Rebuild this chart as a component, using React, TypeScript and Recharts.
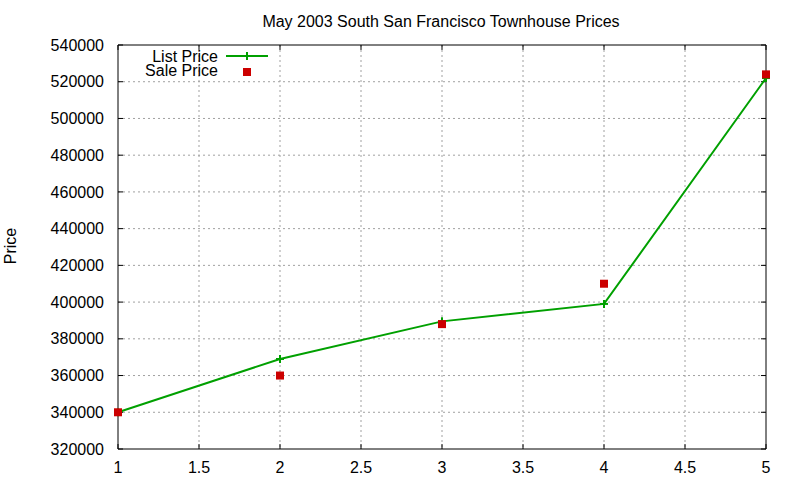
import React from 'react';
import { LineChart, Line, CartesianGrid, XAxis, YAxis, Legend, ReferenceArea, ReferenceLine } from 'recharts';

const units = [1, 2, 3, 4, 5];
const listPrices = [340000, 369000, 389500, 399000, 522000];
const salePrices = [340000, 360000, 388000, 410000, 524000];
const xTicks = [1, 1.5, 2, 2.5, 3, 3.5, 4, 4.5, 5];
const yTicks = [320000, 340000, 360000, 380000, 400000, 420000, 440000, 460000, 480000, 500000, 520000, 540000];

const data = units.map((u, i) => ({ unit: u, list: listPrices[i], sale: salePrices[i] }));

const X_MIN = 1, X_MAX = 5, Y_MIN = 320000, Y_MAX = 540000;
// inward tick length, in data units (about 5px)
const X_TICK_LEN = 0.031;
const Y_TICK_LEN = 2700;

const GREEN = '#00a000';
const RED = '#cc0000';
const FONT = '"Liberation Sans", Arial, sans-serif';

const PlusDot = (props: any) => {
    const { cx, cy } = props;
    if (cx == null || cy == null) return null;
    return (
        <g>
            <line x1={cx - 4} x2={cx + 4} y1={cy} y2={cy} stroke={GREEN} strokeWidth={2} />
            <line x1={cx} x2={cx} y1={cy - 4} y2={cy + 4} stroke={GREEN} strokeWidth={2} />
        </g>
    );
};

const SquareDot = (props: any) => {
    const { cx, cy } = props;
    if (cx == null || cy == null) return null;
    return <rect x={cx - 4} y={cy - 4} width={8} height={8} fill={RED} />;
};

const LegendBox = () => (
    <svg width={160} height={36} style={{ fontFamily: FONT, fontSize: 16 }}>
        <text x={87} y={15.5} textAnchor="end" fill="#000">List Price</text>
        <line x1={95} x2={137} y1={10} y2={10} stroke={GREEN} strokeWidth={2} />
        <line x1={116} x2={116} y1={6} y2={14} stroke={GREEN} strokeWidth={2} />
        <text x={87} y={29.7} textAnchor="end" fill="#000">Sale Price</text>
        <rect x={112} y={22} width={8} height={8} fill={RED} />
    </svg>
);

const App: React.FC = () => {
    return (
        <div style={{ position: 'fixed', left: 0, top: 0, width: 800, height: 480, background: '#fff', fontFamily: FONT }}>
            <svg width={800} height={480} style={{ position: 'absolute', left: 0, top: 0, fontFamily: FONT }}>
                <text x={441} y={27} textAnchor="middle" fontSize={16} fill="#000">May 2003 South San Francisco Townhouse Prices</text>
                <text x={16} y={246} textAnchor="middle" fontSize={16} fill="#000" transform="rotate(-90 16 246)">Price</text>
            </svg>
            <div style={{ position: 'absolute', left: 0, top: 0 }}>
                <LineChart width={800} height={480} data={data} margin={{ top: 45, right: 34, bottom: 0, left: 0 }}>
                    <CartesianGrid xAxisId="b" yAxisId="l" stroke="#a0a0a0" strokeDasharray="2 3"
                        horizontalValues={yTicks.slice(1, -1)} verticalValues={xTicks.slice(1, -1)} />
                    <XAxis xAxisId="b" dataKey="unit" type="number" domain={[X_MIN, X_MAX]} ticks={xTicks} height={31}
                        axisLine={false} tickLine={false} tickMargin={7} interval={0}
                        tick={{ fill: '#000', fontSize: 16, fontFamily: FONT }} />
                    <YAxis yAxisId="l" type="number" domain={[Y_MIN, Y_MAX]} ticks={yTicks} width={118}
                        axisLine={false} tickLine={false} tickMargin={8} interval={0}
                        tick={{ fill: '#000', fontSize: 16, fontFamily: FONT }} />
                    <ReferenceArea xAxisId="b" yAxisId="l" x1={X_MIN} x2={X_MAX} y1={Y_MIN} y2={Y_MAX}
                        fill="none" fillOpacity={0} stroke="#000" strokeWidth={1} strokeOpacity={1} ifOverflow="visible" />
                    {xTicks.map((t) => (
                        <ReferenceLine key={`xb${t}`} xAxisId="b" yAxisId="l" stroke="#000" ifOverflow="visible"
                            segment={[{ x: t, y: Y_MIN }, { x: t, y: Y_MIN + Y_TICK_LEN }]} />
                    ))}
                    {xTicks.map((t) => (
                        <ReferenceLine key={`xt${t}`} xAxisId="b" yAxisId="l" stroke="#000" ifOverflow="visible"
                            segment={[{ x: t, y: Y_MAX }, { x: t, y: Y_MAX - Y_TICK_LEN }]} />
                    ))}
                    {yTicks.map((t) => (
                        <ReferenceLine key={`yl${t}`} xAxisId="b" yAxisId="l" stroke="#000" ifOverflow="visible"
                            segment={[{ x: X_MIN, y: t }, { x: X_MIN + X_TICK_LEN, y: t }]} />
                    ))}
                    {yTicks.map((t) => (
                        <ReferenceLine key={`yr${t}`} xAxisId="b" yAxisId="l" stroke="#000" ifOverflow="visible"
                            segment={[{ x: X_MAX, y: t }, { x: X_MAX - X_TICK_LEN, y: t }]} />
                    ))}
                    <Legend layout="vertical" verticalAlign="middle" align="center" content={<LegendBox />}
                        wrapperStyle={{ left: 131, top: 46, width: 160, height: 36 }} />
                    <Line xAxisId="b" yAxisId="l" type="linear" dataKey="list" name="List Price" stroke={GREEN} strokeWidth={2}
                        dot={<PlusDot />} activeDot={false} isAnimationActive={false} />
                    <Line xAxisId="b" yAxisId="l" type="linear" dataKey="sale" name="Sale Price" stroke="none"
                        dot={<SquareDot />} activeDot={false} isAnimationActive={false} />
                </LineChart>
            </div>
        </div>
    );
};

export default App;
